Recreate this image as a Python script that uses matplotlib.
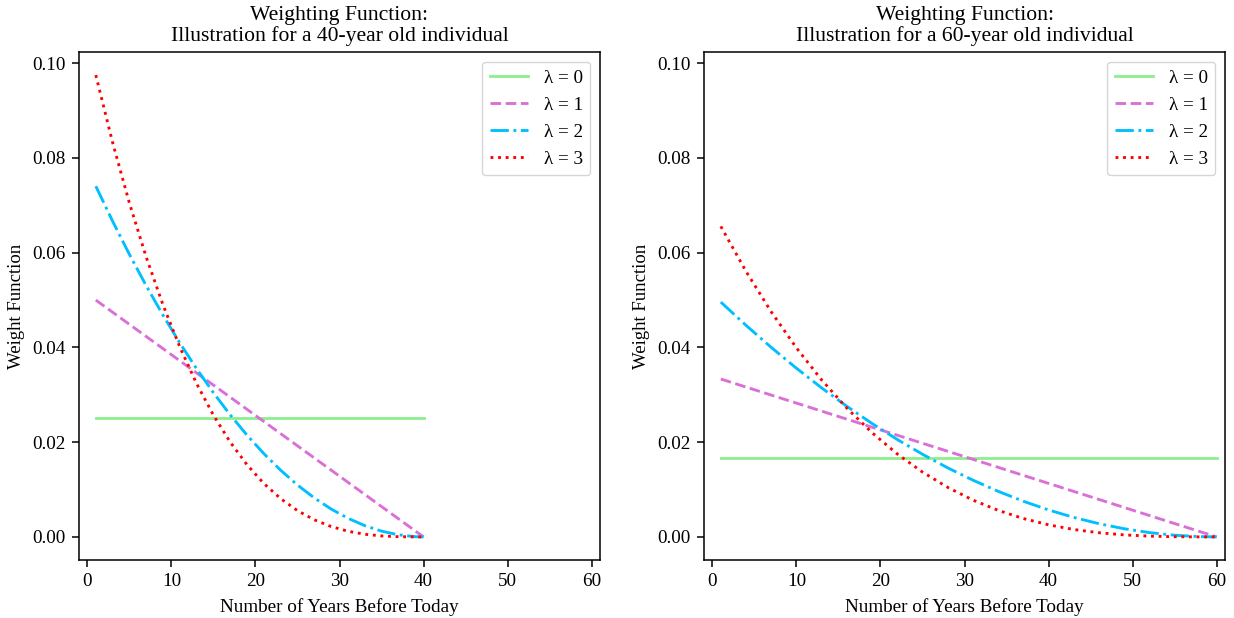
import matplotlib
matplotlib.use("Agg")
import matplotlib.pyplot as plt
import matplotlib.ticker as mticker

plt.rcParams['font.family'] = ['Liberation Serif', 'DejaVu Serif']
S = 1.375
plt.rcParams['xtick.major.size'] = 3.5 * S
plt.rcParams['ytick.major.size'] = 3.5 * S
plt.rcParams['xtick.major.width'] = 0.8 * S
plt.rcParams['ytick.major.width'] = 0.8 * S
plt.rcParams['xtick.major.pad'] = 3.5 * S
plt.rcParams['ytick.major.pad'] = 3.5 * S
plt.rcParams['axes.linewidth'] = 0.8 * S

# ---- data: 40-year old individual ----
years_40 = [1, 3, 5, 7, 9, 11, 13, 15, 17, 19, 21, 23, 25, 27, 29, 31, 33, 35, 37, 39, 40]
w40_l0 = [0.025] * len(years_40)
w40_l1 = [0.05, 0.047436, 0.044872, 0.042308, 0.039744, 0.037179, 0.034615, 0.032051,
          0.029487, 0.026923, 0.024359, 0.021795, 0.019231, 0.016667, 0.014103, 0.011538,
          0.008974, 0.006410, 0.003846, 0.001282, 0.0]
w40_l2 = [0.07405, 0.06665, 0.05964, 0.05302, 0.04679, 0.04094, 0.03549, 0.03043,
          0.02575, 0.02147, 0.01758, 0.01407, 0.01095, 0.00823, 0.00589, 0.003944,
          0.002386, 0.001217, 0.000438, 0.000049, 0.0]
w40_l3 = [0.0975, 0.08326, 0.07047, 0.05907, 0.04897, 0.04009, 0.03235, 0.02568,
          0.02000, 0.01522, 0.01127, 0.00808, 0.00555, 0.00361, 0.00219, 0.001198,
          0.000564, 0.000205, 0.0000444, 0.0000016, 0.0]

# ---- data: 60-year old individual ----
years_60 = [1, 4, 7, 10, 13, 16, 19, 22, 25, 28, 31, 34, 37, 40, 43, 46, 49, 52, 55, 58, 60]
w60_l0 = [0.016667] * len(years_60)
w60_l1 = [0.033333, 0.031638, 0.029944, 0.028249, 0.026554, 0.024859, 0.023164, 0.021469,
          0.019774, 0.018079, 0.016384, 0.014689, 0.012994, 0.011299, 0.009605, 0.007910,
          0.006215, 0.004520, 0.002825, 0.001130, 0.0]
w60_l2 = [0.04958, 0.04467, 0.04001, 0.03561, 0.03146, 0.02757, 0.02394, 0.02057,
          0.01745, 0.01458, 0.01198, 0.00963, 0.00753, 0.005697, 0.004116, 0.002792,
          0.001723, 0.000912, 0.000356, 0.000057, 0.0]
w60_l3 = [0.06556, 0.05606, 0.04752, 0.03990, 0.03314, 0.02719, 0.02200, 0.01751,
          0.01369, 0.01046, 0.00778, 0.00561, 0.00388, 0.002554, 0.001568, 0.000876,
          0.000425, 0.000163, 0.0000399, 0.0000026, 0.0]

labels = ['λ = 0', 'λ = 1', 'λ = 2', 'λ = 3']
ages = [40, 60]

colors = ['#90EE90', '#DA70D6', '#00BFFF', '#FF0000']
styles = ['-', '--', '-.', ':']

fig = plt.figure(figsize=(12.34, 6.18), dpi=100)
ax1 = fig.add_axes([79 / 1234, 1 - 560 / 618, 521 / 1234, 508 / 618])
ax2 = fig.add_axes([704 / 1234, 1 - 560 / 618, 521 / 1234, 508 / 618], sharey=ax1)

panels = [
    (ax1, years_40, [w40_l0, w40_l1, w40_l2, w40_l3], ages[0]),
    (ax2, years_60, [w60_l0, w60_l1, w60_l2, w60_l3], ages[1]),
]

for ax, yrs, series, age in panels:
    for s, lab, c, ls in zip(series, labels, colors, styles):
        ax.plot(yrs, s, color=c, linestyle=ls, linewidth=1.5 * S, label=lab)
    ax.set_xlim(-1, 61)
    ax.set_xticks([0, 10, 20, 30, 40, 50, 60])
    ax.set_yticks([0.0, 0.02, 0.04, 0.06, 0.08, 0.10])
    ax.yaxis.set_major_formatter(mticker.FormatStrFormatter('%.2f'))
    ax.tick_params(labelsize=13.8, labelleft=True)
    ax.set_xlabel('Number of Years Before Today', fontsize=13.8, labelpad=4 * S)
    ax.set_ylabel('Weight Function', fontsize=13.5, labelpad=4 * S)
    ax.set_title('Weighting Function:\nIllustration for a %d-year old individual' % age,
                 fontsize=15.6, linespacing=1.12, pad=5.5 * S)
    ax.legend(loc='upper right', fontsize=13.8)

fig.savefig('out.png', dpi=100)
